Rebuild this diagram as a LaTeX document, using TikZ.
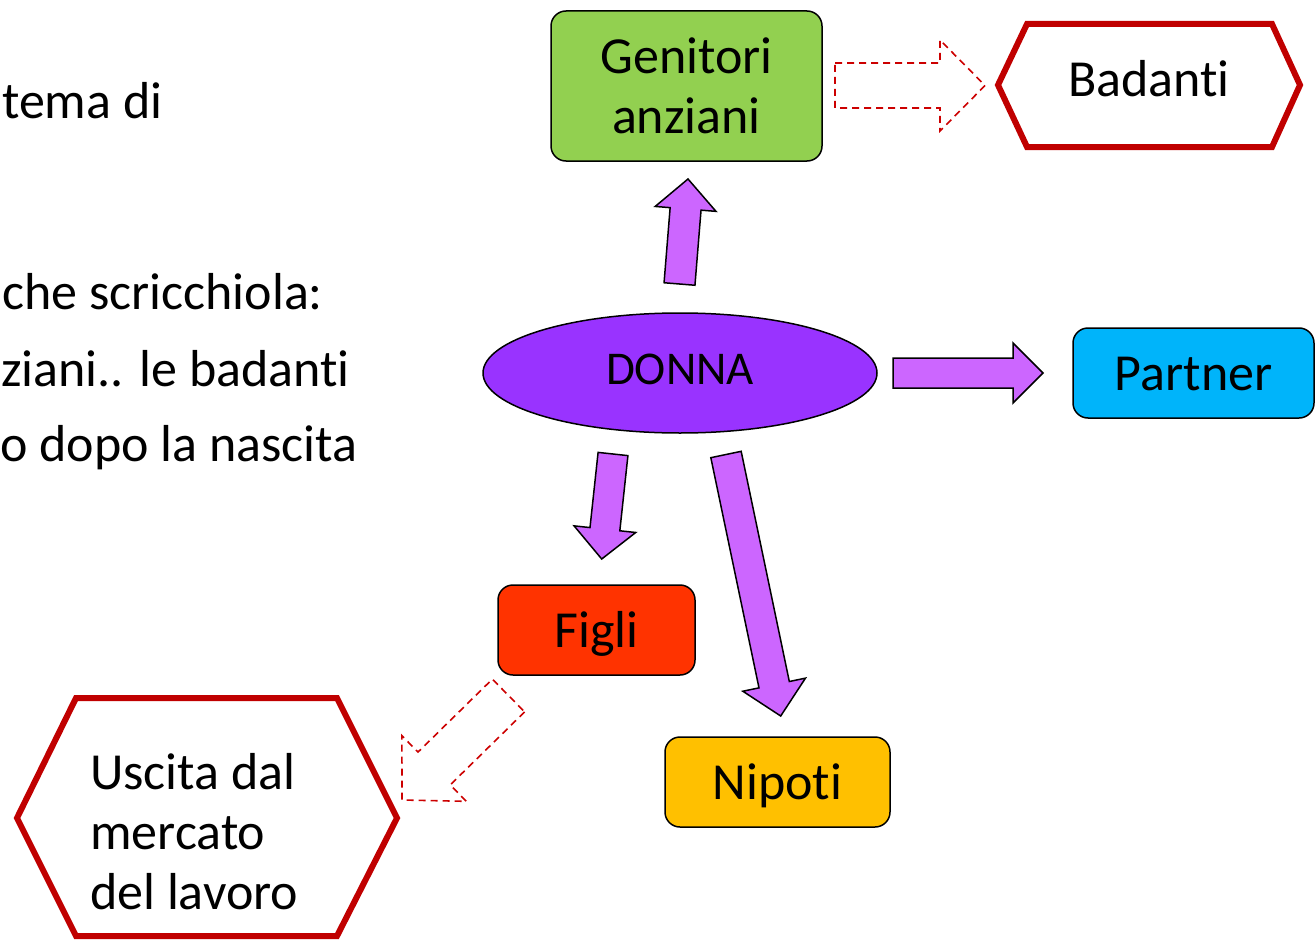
\documentclass[tikz,border=0pt]{standalone}
\usepackage{fontspec}
\setmainfont{Carlito}[Ligatures=NoCommon]
\usetikzlibrary{calc,shapes.geometric}
\definecolor{gen}{HTML}{92D050}
\definecolor{donna}{HTML}{9933FF}
\definecolor{arr}{HTML}{CC66FF}
\definecolor{part}{HTML}{00B4FA}
\definecolor{figli}{HTML}{FF3300}
\definecolor{nip}{HTML}{FFC000}
\definecolor{hexred}{HTML}{C00000}
\definecolor{dashred}{HTML}{CC0000}
% #1 style, #2 start, #3 end, #4 half shaft, #5 half head, #6 head length
\newcommand\blockarr[6]{%
  \coordinate (bh) at ($(#3)!#6!(#2)$);
  \draw[#1] ($(#2)!#4!90:(#3)$) -- ($(bh)!#4!90:(#3)$) -- ($(bh)!#5!90:(#3)$)
    -- (#3) -- ($(bh)!#5!-90:(#3)$) -- ($(bh)!#4!-90:(#3)$) -- ($(#2)!#4!-90:(#3)$) -- cycle;}
\begin{document}
\begin{tikzpicture}[x=1pt,y=-1pt,
  big/.style={font=\fontsize{52}{60}\selectfont},
  box/.style={big, draw=black, line width=1.5pt, rounded corners=15pt, inner sep=0pt, align=center},
  one/.style={text height=34pt, text depth=0pt},
  hexa/.style={draw=hexred, line width=6pt, fill=white},
  purple/.style={fill=arr, draw=black, line width=1.5pt},
  hollow/.style={draw=dashred, line width=1.6pt, dash pattern=on 7pt off 5pt}]
\useasboundingbox (0,0) rectangle (1316,939);
% left text
\node[big, anchor=base west, inner sep=0pt] (t1) at (2,118) {tema di};
\node[big, anchor=base west, inner sep=0pt] (t2) at (2,309) {che scricchiola:};
\node[big, anchor=base west, inner sep=0pt] (t3) at (1,386) {ziani.. le badanti};
\node[big, anchor=base west, inner sep=0pt] (t4) at (0,461) {o dopo la nascita};
% boxes
\node[box, fill=gen, minimum width=271pt, minimum height=150pt] (gen) at (686.5,86) {Genitori\\anziani};
\node[box, one, fill=part, minimum width=241pt, minimum height=90pt] (part) at (1193.5,373) {Partner};
\node[box, one, fill=figli, minimum width=197pt, minimum height=90pt] (figli) at (596.5,630) {Figli};
\node[box, one, fill=nip, minimum width=225pt, minimum height=90pt] (nip) at (777.5,782) {Nipoti};
\node[ellipse, draw=black, line width=1.5pt, fill=donna, minimum width=394pt, minimum height=120pt,
  font=\fontsize{47}{54}\selectfont, inner sep=0pt] (donna) at (680,373) {\raisebox{8pt}{DONNA}};
% hexagons
\draw[hexa] (998,85) -- (1027,24) -- (1272,24) -- (1300,85) -- (1272,147) -- (1027,147) -- cycle;
\node[big, one, inner sep=0pt] (bad) at (1149,80) {Badanti};
\draw[hexa] (17,818) -- (76,698) -- (337,698) -- (397,818) -- (337,936) -- (76,936) -- cycle;
\node[big, anchor=west, align=left, inner sep=0pt] (usc) at (90,832) {Uscita dal\\mercato\\del lavoro};
% arrow end points
\coordinate (u1) at (679.5,284); \coordinate (u2) at (688,179);
\coordinate (r1) at (893,373);   \coordinate (r2) at (1043,373);
\coordinate (f1) at (613,454);   \coordinate (f2) at (601.7,559);
\coordinate (n1) at (726,454.5); \coordinate (n2) at (780.7,716);
\coordinate (g1) at (835,85.5);  \coordinate (g2) at (985,85.5);
\coordinate (x1) at (508.5,695.5); \coordinate (x2) at (402,800);
\blockarr{purple}{u1}{u2}{15.5pt}{30.5pt}{30pt}
\blockarr{purple}{r1}{r2}{15pt}{30pt}{30pt}
\blockarr{purple}{f1}{f2}{15pt}{31pt}{30pt}
\blockarr{purple}{n1}{n2}{15.5pt}{32pt}{32pt}
\blockarr{hollow}{g1}{g2}{22.5pt}{45.5pt}{45pt}
\blockarr{hollow}{x1}{x2}{23pt}{46pt}{45pt}
\end{tikzpicture}
\end{document}
